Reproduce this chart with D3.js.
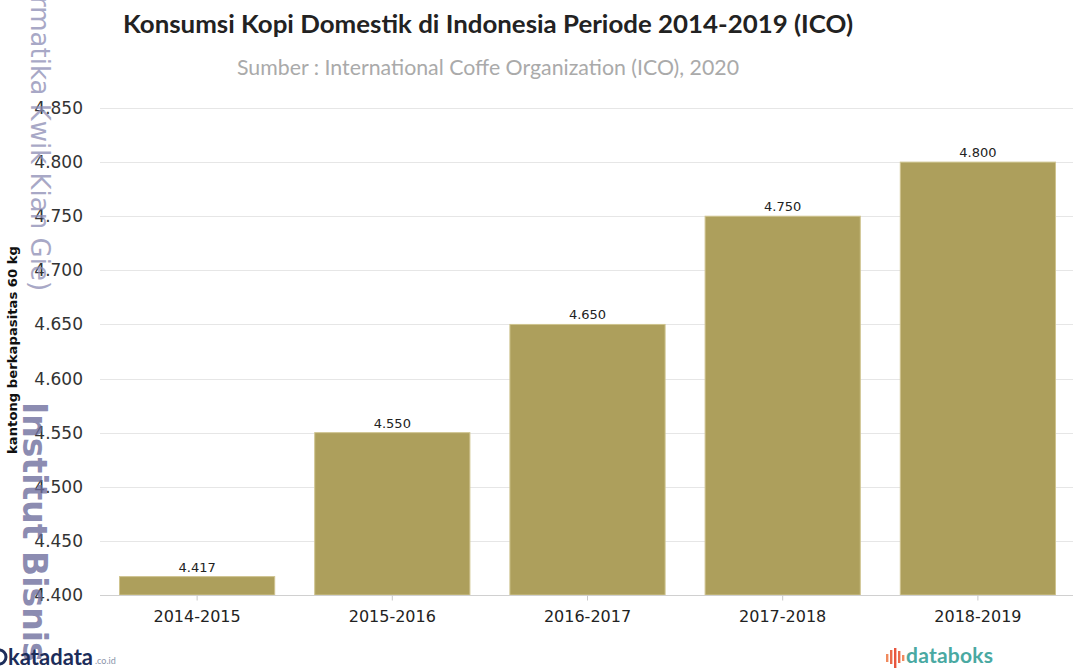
<!DOCTYPE html>
<html><head><meta charset="utf-8">
<script src="https://cdn.jsdelivr.net/npm/d3@7"></script>
<style>body{margin:0;background:#fff;overflow:hidden}svg{display:block}</style>
</head><body>
<svg id="c" width="1073" height="672"></svg>
<script>
const categories = ["2014-2015","2015-2016","2016-2017","2017-2018","2018-2019"];
const values = [4.417, 4.550, 4.650, 4.750, 4.800];
const valueLabels = ["4.417","4.550","4.650","4.750","4.800"];
const yTicks = [4.40,4.45,4.50,4.55,4.60,4.65,4.70,4.75,4.80,4.85];
const yTickLabels = ["4.400","4.450","4.500","4.550","4.600","4.650","4.700","4.750","4.800","4.850"];
const titleText = "Konsumsi Kopi Domestik di Indonesia Periode 2014-2019 (ICO)";
const subtitleText = "Sumber : International Coffe Organization (ICO), 2020";
const yAxisTitle = "kantong berkapasitas 60 kg";

const svg = d3.select("#c");
const x = d3.scaleBand().domain(categories).range([100,1075]).paddingInner(0.205).paddingOuter(0.1);
const y = d3.scaleLinear().domain([4.4,4.85]).range([595,108]);

// grid
svg.append("g").selectAll("line").data(yTicks.slice(1)).join("line")
  .attr("x1",100).attr("x2",1073).attr("y1",d=>Math.round(y(d))+0.5).attr("y2",d=>Math.round(y(d))+0.5)
  .attr("stroke","#e6e6e6").attr("stroke-width",1);

// bars
svg.append("g").selectAll("rect").data(values).join("rect")
  .attr("x",(d,i)=>x(categories[i])).attr("width",x.bandwidth())
  .attr("y",d=>y(d)).attr("height",d=>y(4.4)-y(d))
  .attr("fill","#ad9f5c").attr("stroke","#cfc48f").attr("stroke-width",1);

// x axis
const xa = svg.append("g").attr("transform","translate(0,595.5)")
  .call(d3.axisBottom(x).tickSize(5).tickSizeOuter(0).tickPadding(10));
xa.select(".domain").attr("d","M100,0H1073").attr("stroke","#d0d0d0");
xa.selectAll(".tick line").attr("stroke","#c8c8c8");
xa.selectAll(".tick text").attr("font-family","DejaVu Sans, Verdana, sans-serif").attr("font-size",16).attr("fill","#222");

// y axis labels
const ya = svg.append("g").attr("transform","translate(83,0)")
  .call(d3.axisLeft(y).tickValues(yTicks).tickFormat((d,i)=>yTickLabels[i]).tickSize(0).tickPadding(0));
ya.select(".domain").remove();
ya.selectAll(".tick text").attr("font-family","DejaVu Sans, Verdana, sans-serif").attr("font-size",17).attr("fill","#333");

// value labels
svg.append("g").selectAll("text").data(values).join("text")
  .attr("x",(d,i)=>x(categories[i])+x.bandwidth()/2).attr("y",d=>y(d)-5)
  .attr("text-anchor","middle").attr("font-family","DejaVu Sans, Verdana, sans-serif")
  .attr("font-size",13).attr("fill","#222").text((d,i)=>valueLabels[i]);

// title
svg.append("text").attr("x",123).attr("y",33).attr("text-anchor","start")
  .attr("font-family","Lato, sans-serif").attr("font-weight",700).attr("font-size",24).attr("fill","#222")
  .attr("textLength",730).attr("lengthAdjust","spacingAndGlyphs").text(titleText);
svg.append("text").attr("x",237).attr("y",75).attr("text-anchor","start")
  .attr("font-family","Lato, sans-serif").attr("font-weight",400).attr("font-size",21).attr("fill","#aaa")
  .attr("textLength",502).attr("lengthAdjust","spacingAndGlyphs").text(subtitleText);

// y axis title
svg.append("text").attr("transform","translate(17,350) rotate(-90)").attr("text-anchor","middle")
  .attr("font-family","DejaVu Sans, Verdana, sans-serif").attr("font-weight",700).attr("font-size",12).attr("fill","#111")
  .attr("textLength",208).attr("lengthAdjust","spacingAndGlyphs").text(yAxisTitle);

// watermark (on top, semi-transparent)
svg.append("text").attr("transform","translate(31,-4) rotate(90)").attr("text-anchor","start")
  .attr("font-family","DejaVu Sans, sans-serif").attr("font-size",26).attr("fill","#8c8cb4").attr("fill-opacity",0.75)
  .text("rmatika Kwik Kian Gie)");
svg.append("text").attr("transform","translate(23,402) rotate(90)").attr("text-anchor","start")
  .attr("font-family","DejaVu Sans, sans-serif").attr("font-weight",700).attr("font-size",33).attr("fill","#6c6c9c").attr("fill-opacity",0.78)
  .text("Institut Bisnis dan");

// katadata logo
svg.append("circle").attr("cx",-1).attr("cy",657).attr("r",7).attr("fill","none").attr("stroke","#1c2d5a").attr("stroke-width",3);
svg.append("text").attr("x",8).attr("y",665).attr("font-family","Lato, sans-serif").attr("font-weight",700)
  .attr("font-size",22).attr("fill","#1c2d5a").attr("textLength",85).text("katadata");
svg.append("text").attr("x",95).attr("y",664).attr("font-family","Lato, sans-serif")
  .attr("font-size",9).attr("fill","#8a94aa").text(".co.id");

// databoks logo
const barsIcon = [[0,6,8],[4,2,14],[8,0,20],[12,3,12],[16,7,6]];
svg.append("g").attr("transform","translate(886,648)").selectAll("rect").data(barsIcon).join("rect")
  .attr("x",d=>d[0]).attr("y",d=>d[1]).attr("width",2.4).attr("height",d=>d[2])
  .attr("fill",(d,i)=>["#f08a5d","#ea6a4a","#e8553e","#ea6a4a","#f08a5d"][i]);
svg.append("text").attr("x",906).attr("y",663).attr("font-family","Lato, sans-serif").attr("font-weight",700)
  .attr("font-size",21).attr("fill","#4aa9a2").attr("textLength",87).text("databoks");
</script>
</body></html>
